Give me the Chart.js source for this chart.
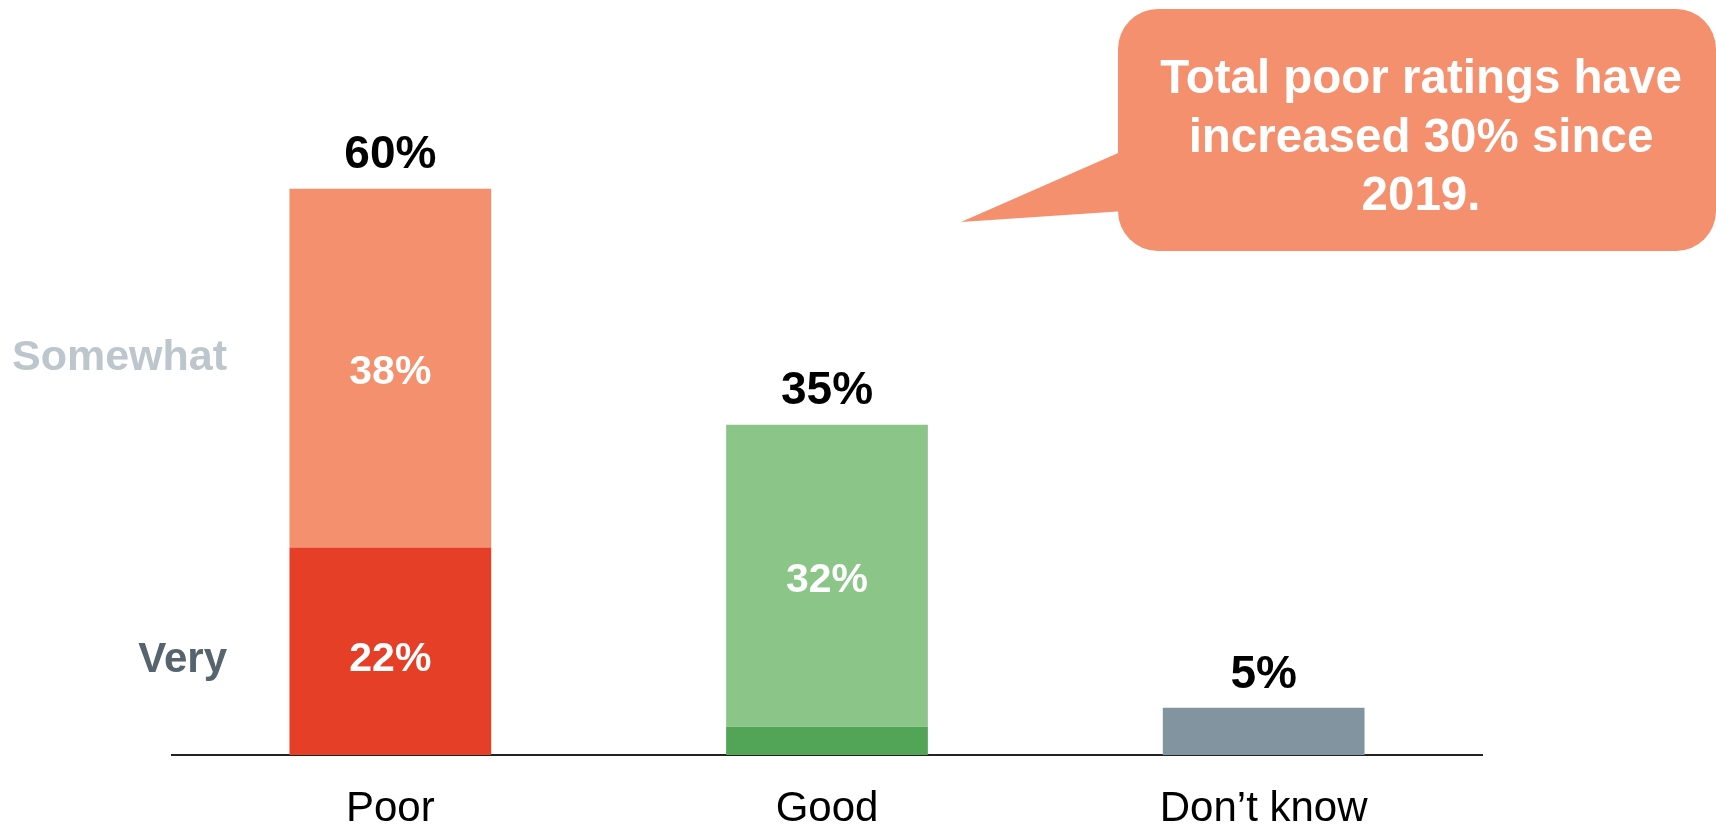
<!DOCTYPE html>
<html>
<head>
<meta charset="utf-8">
<script src="https://cdn.jsdelivr.net/npm/chart.js@4.4.1/dist/chart.umd.min.js"></script>
<style>
  html, body { margin: 0; padding: 0; background: #fff; }
  #wrap { width: 1716px; height: 825px; position: relative; }
</style>
</head>
<body>
<div id="wrap"><canvas id="myChart"></canvas></div>
<script>
const categories = ['Poor', 'Good', 'Don\u2019t know'];
const veryValues = [22, 3, 5];
const somewhatValues = [38, 32, 0];
const veryColors = ['#E53F27', '#52A457', '#8294A0'];
const somewhatColors = ['#F4906D', '#8BC688', '#8294A0'];
const veryInner = ['22%', '', ''];
const somewhatInner = ['38%', '32%', ''];
const rowLabels = ['Very', 'Somewhat'];
const calloutLines = ['Total poor ratings have', 'increased 30% since', '2019.'];

const FONT = '"Liberation Sans", Arial, Helvetica, sans-serif';

const labelPlugin = {
    id: 'labels',
    afterDatasetsDraw(chart) {
        const ctx = chart.ctx;
        const veryMeta = chart.getDatasetMeta(0);
        const someMeta = chart.getDatasetMeta(1);
        ctx.save();
        ctx.textAlign = 'center';
        ctx.textBaseline = 'middle';

        categories.forEach((c, i) => {
            const vb = veryMeta.data[i];
            const sb = someMeta.data[i];
            const total = veryValues[i] + somewhatValues[i];
            const top = somewhatValues[i] > 0 ? sb.y : vb.y;

            // total above the bar
            ctx.fillStyle = '#000';
            ctx.font = 'bold 46px ' + FONT;
            ctx.fillText(total + '%', vb.x, top - 33);

            // labels inside segments
            ctx.fillStyle = '#fff';
            ctx.font = 'bold 41px ' + FONT;
            if (veryInner[i]) ctx.fillText(veryInner[i], vb.x, (vb.y + vb.base) / 2 + 8);
            if (somewhatInner[i]) ctx.fillText(somewhatInner[i], sb.x, (sb.y + sb.base) / 2 + 5);
        });

        // row labels left of the Poor bar
        const p0 = veryMeta.data[0];
        const p1 = someMeta.data[0];
        const rx = chart.chartArea.left + 55;
        ctx.textAlign = 'right';
        ctx.font = 'bold 42px ' + FONT;
        ctx.fillStyle = '#56646E';
        ctx.fillText(rowLabels[0], rx, (p0.y + p0.base) / 2 + 9);
        ctx.font = 'bold 43px ' + FONT;
        ctx.fillStyle = '#BCC6CC';
        ctx.fillText(rowLabels[1], rx, (p1.y + p1.base) / 2 - 10);
        ctx.restore();
    },
    afterDraw(chart) {
        // speech-bubble callout
        const ctx = chart.ctx;
        ctx.save();
        ctx.fillStyle = '#F4906D';
        ctx.beginPath();
        ctx.roundRect(1118, 9, 598, 242, 40);
        ctx.fill();
        ctx.beginPath();
        ctx.moveTo(1125, 150);
        ctx.lineTo(961, 222);
        ctx.lineTo(1125, 211);
        ctx.closePath();
        ctx.fill();

        ctx.fillStyle = '#fff';
        ctx.font = 'bold 47.5px ' + FONT;
        ctx.textAlign = 'center';
        ctx.textBaseline = 'middle';
        calloutLines.forEach((t, k) => {
            ctx.fillText(t, 1421, 80 + k * 58.5);
        });
        ctx.restore();
    }
};

const ctx = document.getElementById('myChart').getContext('2d');
window.myChart = new Chart(ctx, {
    type: 'bar',
    data: {
        labels: categories,
        datasets: [
            { label: 'Very', data: veryValues, backgroundColor: veryColors, borderWidth: 0 },
            { label: 'Somewhat', data: somewhatValues, backgroundColor: somewhatColors, borderWidth: 0 }
        ]
    },
    options: {
        responsive: true,
        maintainAspectRatio: false,
        animation: false,
        layout: { padding: { left: 172, right: 234, top: 0, bottom: -38 } },
        datasets: { bar: { categoryPercentage: 1, barPercentage: 0.462 } },
        plugins: {
            legend: { display: false },
            tooltip: { enabled: false }
        },
        scales: {
            x: {
                stacked: true,
                grid: { display: false, drawTicks: false, tickLength: 0 },
                border: { display: true, color: '#222', width: 2 },
                ticks: {
                    color: '#000',
                    padding: 33,
                    font: { family: FONT, size: 42, lineHeight: 1 }
                }
            },
            y: {
                stacked: true,
                display: false,
                min: 0,
                max: 80
            }
        }
    },
    plugins: [labelPlugin]
});
</script>
</body>
</html>
